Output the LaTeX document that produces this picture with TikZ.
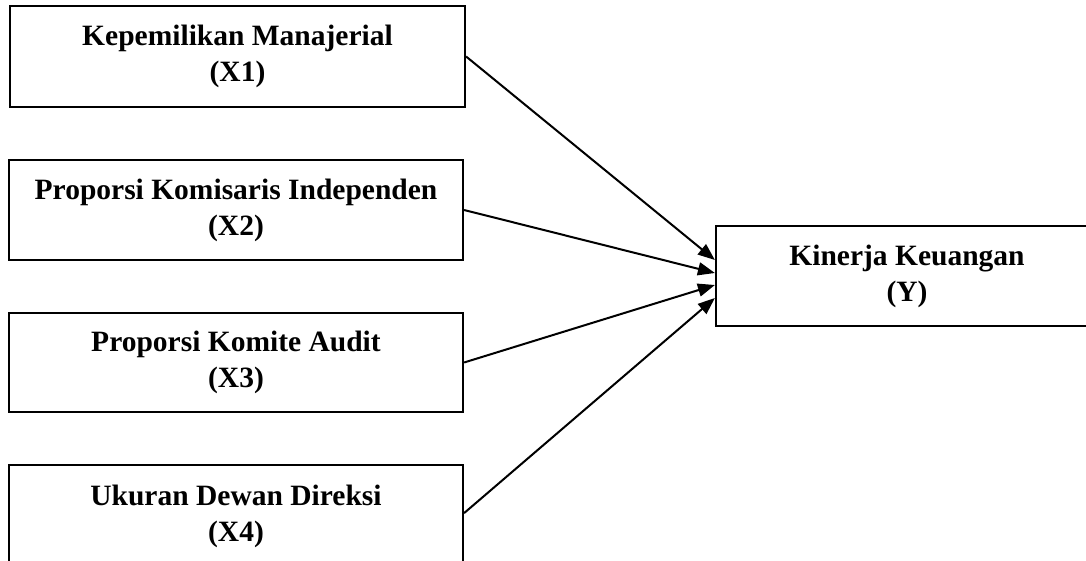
\documentclass[tikz,border=0pt]{standalone}
\usepackage{fontspec}
\setmainfont{Liberation Serif}
\usetikzlibrary{arrows.meta}
\begin{document}
\begin{tikzpicture}[x=1pt,y=-1pt,
  varbox/.style={draw, line width=2.2pt, rectangle, align=center, inner sep=0pt,
    font=\bfseries\fontsize{29.5}{36}\selectfont},
  link/.style={line width=2pt, -{Triangle[length=17pt,width=13pt]}}]
\useasboundingbox (0,0) rectangle (1086,561);
\clip (0,0) rectangle (1086,561);
\node[varbox, minimum width=455pt, minimum height=101pt] (x1) at (237.5,56.5) {Kepemilikan Manajerial\\(X1)};
\node[varbox, minimum width=454pt, minimum height=100pt] (x2) at (236,210) {Proporsi Komisaris Independen\\(X2)};
\node[varbox, minimum width=454pt, minimum height=99pt] (x3) at (236,362.5) {Proporsi Komite Audit\\(X3)};
\node[varbox, minimum width=454pt, minimum height=100pt, anchor=north] (x4) at (236,464) {\rule{0pt}{0pt}\\[-13pt]Ukuran Dewan Direksi\\(X4)};
\node[varbox, minimum width=382pt, minimum height=100pt] (y) at (907,276) {Kinerja Keuangan\\(Y)};
\coordinate (t1) at ([yshift=16pt]y.west);
\coordinate (t2) at ([yshift=3pt]y.west);
\coordinate (t3) at ([yshift=-9pt]y.west);
\coordinate (t4) at ([yshift=-22pt]y.west);
\draw[link] (x1.east) -- (t1);
\draw[link] (x2.east) -- (t2);
\draw[link] (x3.east) -- (t3);
\draw[link] ([yshift=2pt]x4.east) -- (t4);
\end{tikzpicture}
\end{document}
